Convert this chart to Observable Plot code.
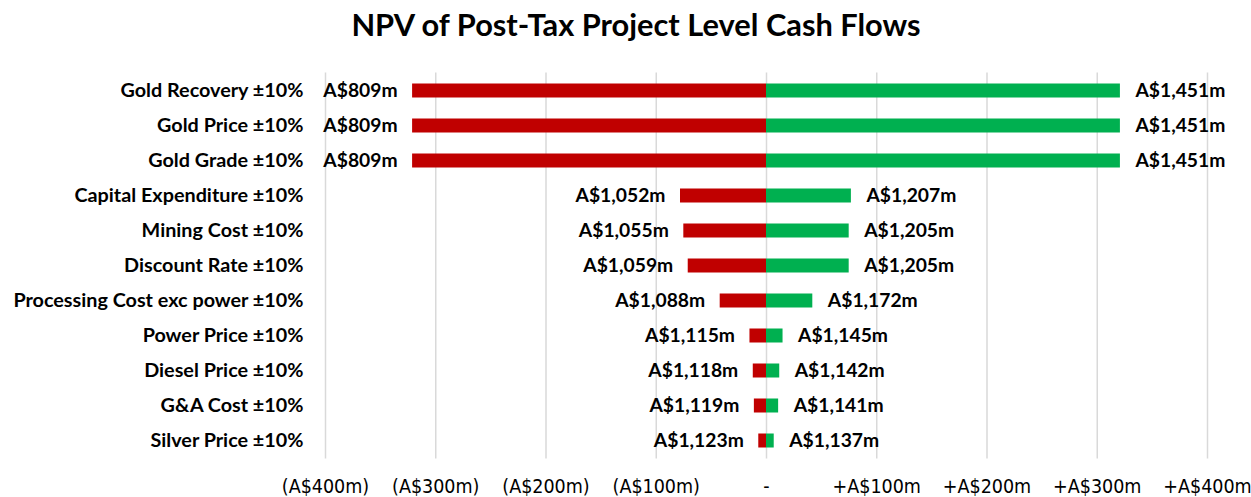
<!DOCTYPE html>
<html>
<head>
<meta charset="utf-8">
<script src="https://cdn.jsdelivr.net/npm/d3@7"></script>
<script src="https://cdn.jsdelivr.net/npm/@observablehq/plot@0.6"></script>
<style>
  html, body { margin: 0; padding: 0; background: #fff; }
  #title { height: 60px; line-height: 50px; text-align: center; font-family: Lato, "Open Sans", sans-serif; font-weight: bold; font-size: 30.8px; color: #000; width: 1251px; box-sizing: border-box; padding-left: 21px; }
  #chart svg { display: block; }
</style>
</head>
<body>
<div id="title">NPV of Post-Tax Project Level Cash Flows</div>
<div id="chart"></div>
<script>
const categories = ["Gold Recovery ±10%", "Gold Price ±10%", "Gold Grade ±10%", "Capital Expenditure ±10%", "Mining Cost ±10%", "Discount Rate ±10%", "Processing Cost exc power ±10%", "Power Price ±10%", "Diesel Price ±10%", "G&A Cost ±10%", "Silver Price ±10%"];
const lowNPV = [809, 809, 809, 1052, 1055, 1059, 1088, 1115, 1118, 1119, 1123];
const highNPV = [1451, 1451, 1451, 1207, 1205, 1205, 1172, 1145, 1142, 1141, 1137];
const baseNPV = 1130;
const xTicks = [-400, -300, -200, -100, 0, 100, 200, 300, 400];

const rows = categories.map((c, i) => ({
  cat: c,
  low: lowNPV[i] - baseNPV,
  high: highNPV[i] - baseNPV,
  lowLabel: "A$" + d3.format(",")(lowNPV[i]) + "m",
  highLabel: "A$" + d3.format(",")(highNPV[i]) + "m"
}));

const fmtTick = v => v < 0 ? "(A$" + Math.abs(v) + "m)" : v === 0 ? "-" : "+A$" + v + "m";

const chart = Plot.plot({
  width: 1251,
  height: 437,
  marginLeft: 325,
  marginRight: 44,
  marginTop: 12.5,
  marginBottom: 38.5,
  style: { fontFamily: "Lato, 'Open Sans', sans-serif", background: "#fff", color: "#000" },
  x: { domain: [-400, 400], label: null },
  y: { domain: categories, padding: 0, label: null },
  marks: [
    Plot.ruleX(xTicks, { stroke: "#d9d9d9", strokeWidth: 1.5 }),
    Plot.barX(rows, { y: "cat", x1: 0, x2: "low", fill: "#c00000", insetTop: 10.5, insetBottom: 10.5 }),
    Plot.barX(rows, { y: "cat", x1: 0, x2: "high", fill: "#00b050", insetTop: 10.5, insetBottom: 10.5 }),
    Plot.text(rows, { y: "cat", x: "low", text: "lowLabel", textAnchor: "end", dx: -15, fontSize: 19.3, fontWeight: "bold", fill: "#000" }),
    Plot.text(rows, { y: "cat", x: "high", text: "highLabel", textAnchor: "start", dx: 15, fontSize: 19.3, fontWeight: "bold", fill: "#000" }),
    Plot.axisY({ tickSize: 0, tickPadding: 22, fontSize: 19.8, fontWeight: "bold", label: null }),
    Plot.axisX({ ticks: xTicks, tickFormat: fmtTick, tickSize: 0, tickPadding: 20, fontSize: 19.5, fontWeight: 500, label: null, fontFamily: "'Liberation Sans Narrow', 'DejaVu Sans Condensed', Lato, sans-serif" })
  ]
});
document.getElementById("chart").appendChild(chart);
</script>
</body>
</html>
